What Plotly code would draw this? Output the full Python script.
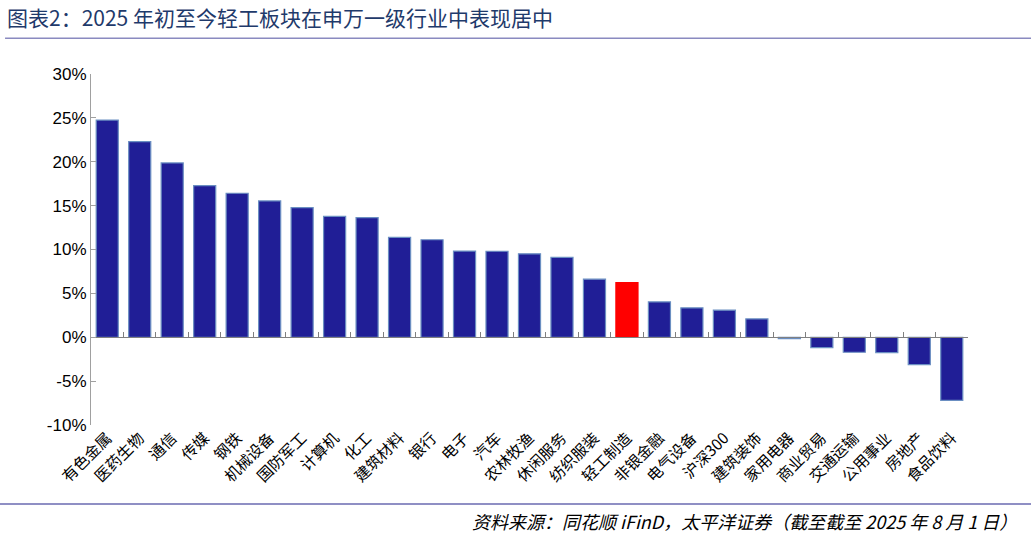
import plotly.graph_objects as go

# 申万一级行业 2025 年初至今涨跌幅 (%)
industries = [
    "有色金属", "医药生物", "通信", "传媒", "钢铁", "机械设备", "国防军工",
    "计算机", "化工", "建筑材料", "银行", "电子", "汽车", "农林牧渔",
    "休闲服务", "纺织服装", "轻工制造", "非银金融", "电气设备", "沪深300",
    "建筑装饰", "家用电器", "商业贸易", "交通运输", "公用事业", "房地产", "食品饮料",
]
returns = [
    24.75, 22.3, 19.87, 17.28, 16.41, 15.53, 14.77,
    13.78, 13.63, 11.38, 11.11, 9.82, 9.8, 9.51,
    9.1, 6.62, 6.24, 4.03, 3.35, 3.08,
    2.09, -0.15, -1.18, -1.71, -1.75, -3.12, -7.19,
]
highlight = "轻工制造"

y_ticks = [-10, -5, 0, 5, 10, 15, 20, 25, 30]

navy = "#201E96"
fills = ["#FF0000" if c == highlight else navy for c in industries]
edges = ["#FF0000" if c == highlight else "#6B8FC2" for c in industries]

fig = go.Figure()

fig.add_trace(go.Bar(
    x=industries,
    y=returns,
    marker=dict(color=fills, line=dict(color=edges, width=1.2)),
    hovertemplate="%{x}: %{y:.2f}%<extra></extra>",
))

# invisible trace to carry the zero-line axis with boundary ticks
fig.add_trace(go.Scatter(
    x=industries,
    y=[0] * len(industries),
    xaxis="x2",
    mode="markers",
    marker=dict(opacity=0),
    hoverinfo="skip",
    showlegend=False,
))

fig.update_layout(
    width=1031,
    height=535,
    margin=dict(l=91, r=63, t=74, b=110),
    paper_bgcolor="white",
    plot_bgcolor="white",
    showlegend=False,
    bargap=0.32,
    font=dict(family="Liberation Sans, Arial, sans-serif", color="#000000"),
    xaxis=dict(
        type="category",
        showline=False,
        showgrid=False,
        ticks="",
        tickangle=-45,
        tickfont=dict(family="Noto Sans CJK SC", size=15.5, color="#000000"),
        range=[-0.5, len(industries) - 0.5],
    ),
    xaxis2=dict(
        type="category",
        overlaying="x",
        anchor="free",
        position=(0 - y_ticks[0]) / (y_ticks[-1] - y_ticks[0]),
        showline=True,
        linecolor="#808080",
        linewidth=1.2,
        ticks="inside",
        tickson="boundaries",
        ticklen=5,
        tickcolor="#808080",
        showticklabels=False,
        showgrid=False,
        range=[-0.5, len(industries) - 0.5],
    ),
    yaxis=dict(
        range=[y_ticks[0], y_ticks[-1]],
        tickvals=y_ticks,
        ticktext=[f"{v}%" for v in y_ticks],
        showline=True,
        linecolor="#A0A0A0",
        linewidth=1.2,
        ticks="inside",
        ticklen=5,
        tickcolor="#A0A0A0",
        showgrid=False,
        zeroline=False,
        tickfont=dict(size=17, color="#000000"),
    ),
)

# title, rules and source note
fig.add_annotation(
    text="图表2：2025 年初至今轻工板块在申万一级行业中表现居中",
    xref="paper", yref="paper", x=-0.098, y=1.162,
    xanchor="left", yanchor="middle", showarrow=False,
    font=dict(family="Noto Sans CJK SC", size=21, color="#1F3A6B"),
)
fig.add_shape(type="line", xref="paper", yref="paper",
              x0=-0.098, x1=1.072, y0=1.102, y1=1.102,
              line=dict(color="#8A8AC0", width=1.5))
fig.add_shape(type="line", xref="paper", yref="paper",
              x0=-0.104, x1=1.072, y0=-0.225, y1=-0.225,
              line=dict(color="#6A6AB0", width=1.5))
fig.add_annotation(
    text="<i>资料来源：同花顺 iFinD，太平洋证券（截至截至 2025 年 8 月 1 日）</i>",
    xref="paper", yref="paper", x=1.058, y=-0.274,
    xanchor="right", yanchor="middle", showarrow=False,
    font=dict(family="Noto Sans CJK SC", size=18, color="#000000"),
)

fig.write_html("out.html", config={"displayModeBar": False},
               post_script="document.body.style.margin='0px';")
